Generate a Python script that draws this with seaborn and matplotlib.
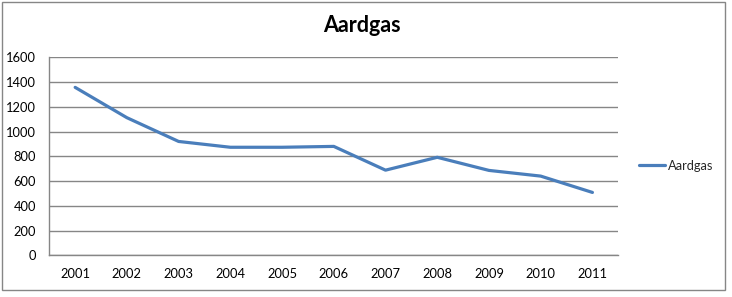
import matplotlib
matplotlib.use("Agg")
import matplotlib.pyplot as plt
import seaborn as sns
import pandas as pd
from matplotlib.patches import Rectangle
from matplotlib.ticker import FixedLocator
from matplotlib.lines import Line2D

years = ["2001", "2002", "2003", "2004", "2005", "2006", "2007", "2008", "2009", "2010", "2011"]
aardgas = [1357, 1112, 920, 873, 873, 880, 688, 792, 686, 640, 508]
series_name = "Aardgas"
yticks = [0, 200, 400, 600, 800, 1000, 1200, 1400, 1600]

sns.set_style("white")
plt.rcParams['font.family'] = ['Lato', 'DejaVu Sans']

W, H = 732, 297
fig = plt.figure(figsize=(W / 100, H / 100), dpi=100)
ax = fig.add_axes([49.3 / W, 1 - 255.3 / H, (618.3 - 49.3) / W, (255.3 - 57.3) / H])

df = pd.DataFrame({"year": years, "value": aardgas, "series": series_name})
df["x"] = range(len(years))
line_color = "#4A7EBB"
gray = "#868686"
fs = 9.3

sns.lineplot(data=df, x="x", y="value", ax=ax, color=line_color, linewidth=2.3,
             label=series_name, legend=False)

ax.set_xlim(-0.5, len(years) - 0.5)
ax.set_ylim(0, 1600)
ax.set_yticks(yticks)
ax.set_yticklabels([str(v) for v in yticks])
ax.set_xticks(range(len(years)))
ax.set_xticklabels(years)
ax.xaxis.set_minor_locator(FixedLocator([i - 0.5 for i in range(len(years) + 1)]))
ax.tick_params(axis="x", which="major", length=0, pad=9.5, labelsize=fs, colors="black")
ax.tick_params(axis="x", which="minor", length=4, width=1, color=gray, direction="out")
ax.tick_params(axis="y", which="major", length=4, width=1, color=gray, direction="out",
               pad=5.5, labelsize=fs, labelcolor="black")
ax.set_xlabel("")
ax.set_ylabel("")
ax.yaxis.grid(True, color=gray, linewidth=1)
ax.xaxis.grid(False)
ax.set_axisbelow(True)
for s in ["top", "right"]:
    ax.spines[s].set_visible(False)
for s in ["left", "bottom"]:
    ax.spines[s].set_color(gray)
    ax.spines[s].set_linewidth(1)

fig.text(361.7 / W, 1 - 26 / H, "Aardgas", ha="center", va="center",
         fontsize=15.5, fontweight="bold", color="black")

# legend
handle = Line2D([], [], color=line_color, linewidth=2.3)
leg = fig.legend([handle], [series_name], loc="center left",
                 bbox_to_anchor=(639 / W, 1 - 166 / H), frameon=False,
                 fontsize=fs, handlelength=2.0, handletextpad=0.25,
                 borderpad=0, borderaxespad=0)

fig.patches.append(Rectangle((1.5 / W, 1 - 289.5 / H), (725 - 1.5) / W, (289.5 - 1.5) / H,
                             transform=fig.transFigure, fill=False,
                             edgecolor=gray, linewidth=1))

fig.savefig("out.png", dpi=100)
